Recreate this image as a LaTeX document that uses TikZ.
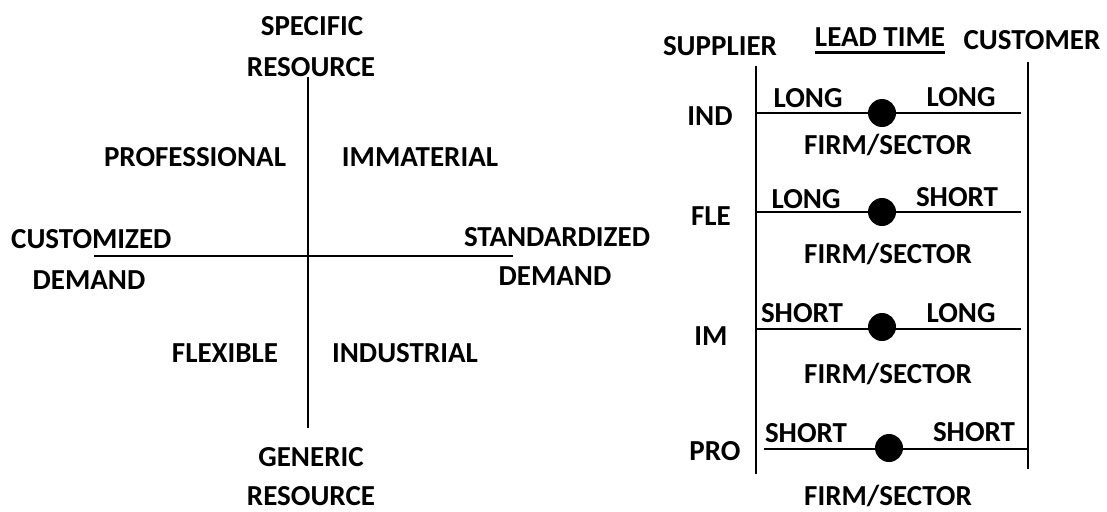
\documentclass[tikz,border=0pt]{standalone}
\usepackage{fontspec}
\setmainfont{Carlito}
\begin{document}
\begin{tikzpicture}[x=1pt,y=-1pt,
  lbl/.style={font=\bfseries\fontsize{29}{31}\selectfont, inner sep=0pt, anchor=center},
  ln/.style={line width=2.7pt},
  dot/.style={circle, fill=black, minimum size=28pt, inner sep=0pt}]
\useasboundingbox (0,0) rectangle (1107,511);
% ---------- left diagram ----------
\coordinate (vt) at (308,77);
\coordinate (vb) at (308,428);
\coordinate (hl) at (94,256);
\coordinate (hr) at (513,256);
\draw[ln] (vt) -- (vb);
\draw[ln] (hl) -- (hr);
\node[lbl] (spec) at (312,26) {SPECIFIC};
\node[lbl] (specr) at (311,67) {RESOURCE};
\node[lbl] (prof) at (195,157) {PROFESSIONAL};
\node[lbl] (imm) at (420,157) {IMMATERIAL};
\node[lbl,anchor=west] (cust) at (11,239) {CUSTOMIZED};
\node[lbl] (custd) at (89,280) {DEMAND};
\node[lbl] (stan) at (557,237) {STANDARDIZED};
\node[lbl] (stand) at (555,276) {DEMAND};
\node[lbl] (flex) at (225,353) {FLEXIBLE};
\node[lbl] (ind) at (405,353) {INDUSTRIAL};
\node[lbl] (gen) at (311,457) {GENERIC};
\node[lbl] (genr) at (311,496) {RESOURCE};
% ---------- right diagram ----------
\coordinate (lt) at (756,66);
\coordinate (lb) at (756,474);
\coordinate (rt) at (1028,62);
\coordinate (rb) at (1028,469);
\draw[ln] (lt) -- (lb);
\draw[ln] (rt) -- (rb);
\node[lbl] (sup) at (720,46) {SUPPLIER};
\node[lbl] (lead) at (880,37) {LEAD TIME};
\draw[ln] (lead.south west) ++(0,6) coordinate (ula) -- (ula -| lead.south east);
\node[lbl] (cus) at (1032,40) {CUSTOMER};
% IND
\coordinate (a1) at (756,113); \coordinate (b1) at (1021,113);
\draw[ln] (a1) -- (b1);
\node[dot] (d1) at (882,113) {};
\node[lbl] (r1) at (710,116) {IND};
\node[lbl] (s1) at (808,98) {LONG};
\node[lbl] (c1) at (961,97) {LONG};
\node[lbl] (f1) at (888,145) {FIRM/SECTOR};
% FLE
\coordinate (a2) at (756,212); \coordinate (b2) at (1021,212);
\draw[ln] (a2) -- (b2);
\node[dot] (d2) at (882,212) {};
\node[lbl] (r2) at (711,216) {FLE};
\node[lbl] (s2) at (806,199) {LONG};
\node[lbl] (c2) at (957,197) {SHORT};
\node[lbl] (f2) at (888,254) {FIRM/SECTOR};
% IM
\coordinate (a3) at (756,329); \coordinate (b3) at (1021,329);
\draw[ln] (a3) -- (b3);
\node[dot] (d3) at (882,327) {};
\node[lbl] (r3) at (711,336) {IM};
\node[lbl] (s3) at (802,313) {SHORT};
\node[lbl] (c3) at (961,313) {LONG};
\node[lbl] (f3) at (888,374) {FIRM/SECTOR};
% PRO
\coordinate (a4) at (764,449); \coordinate (b4) at (1028,449);
\draw[ln] (a4) -- (b4);
\node[dot] (d4) at (889,448) {};
\node[lbl] (r4) at (715,451) {PRO};
\node[lbl] (s4) at (806,433) {SHORT};
\node[lbl] (c4) at (974,432) {SHORT};
\node[lbl] (f4) at (888,496) {FIRM/SECTOR};
\end{tikzpicture}
\end{document}
